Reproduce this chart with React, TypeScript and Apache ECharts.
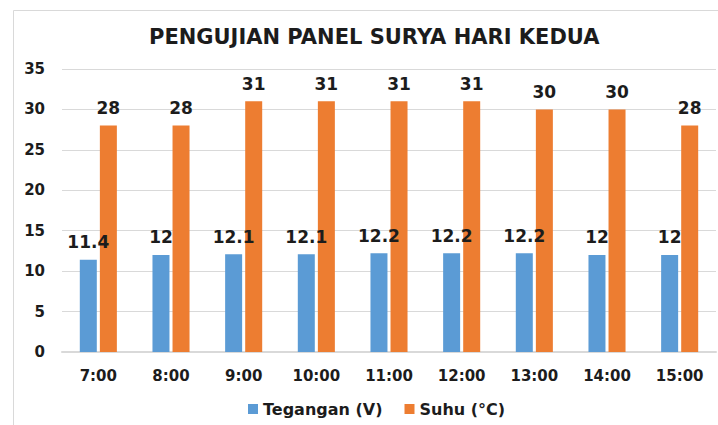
import React, { useEffect, useRef } from "react";
import * as echarts from "echarts";

const categories = ["7:00", "8:00", "9:00", "10:00", "11:00", "12:00", "13:00", "14:00", "15:00"];
const tegangan = [11.4, 12, 12.1, 12.1, 12.2, 12.2, 12.2, 12, 12];
const suhu = [28, 28, 31, 31, 31, 31, 30, 30, 28];
const seriesNames = ["Tegangan (V)", "Suhu (°C)"];
const titleText = "PENGUJIAN PANEL SURYA HARI KEDUA";

const FONT = "DejaVu Sans";
const TXT = "#1c1c1c";

export default function App() {
  const ref = useRef<HTMLDivElement>(null);
  useEffect(() => {
    if (!ref.current) return;
    const chart = echarts.init(ref.current, undefined, { renderer: "svg" });
    const label = {
      show: true,
      position: "top",
      distance: 9,
      color: TXT,
      fontFamily: FONT,
      fontWeight: "bold",
      fontSize: 17,
    };
    chart.setOption({
      animation: false,
      backgroundColor: "#ffffff",
      title: {
        text: titleText,
        left: 144,
        top: 21,
        textStyle: { fontFamily: FONT, fontWeight: "bold", fontSize: 21, color: TXT },
      },
      graphic: [
        {
          type: "rect",
          shape: { x: 13.5, y: 10.5, width: 800, height: 600 },
          style: { fill: "none", stroke: "#d9d9d9", lineWidth: 1 },
          silent: true,
        },
      ],
      legend: {
        bottom: 3,
        left: 243,
        itemWidth: 10,
        itemHeight: 10,
        itemGap: 22,
        icon: "rect",
        textStyle: { fontFamily: FONT, fontWeight: "bold", fontSize: 16, color: TXT },
        data: seriesNames,
      },
      grid: { left: 62, right: 2, top: 69, bottom: 73, containLabel: false },
      xAxis: {
        type: "category",
        data: categories,
        axisLine: { lineStyle: { color: "#d9d9d9", width: 2 } },
        axisTick: { show: false },
        axisLabel: { margin: 16, fontFamily: FONT, fontWeight: "bold", fontSize: 15, color: TXT },
      },
      yAxis: {
        type: "value",
        min: 0,
        max: 35,
        interval: 5,
        axisLine: { show: false },
        axisTick: { show: false },
        splitLine: { lineStyle: { color: "#d9d9d9", width: 1 } },
        axisLabel: { margin: 17, fontFamily: FONT, fontWeight: "bold", fontSize: 15, color: TXT },
      },
      series: [
        {
          name: seriesNames[0],
          type: "bar",
          data: tegangan,
          barWidth: 17,
          barGap: "18%",
          itemStyle: { color: "#5B9BD5" },
          label,
        },
        {
          name: seriesNames[1],
          type: "bar",
          data: suhu,
          barWidth: 17,
          itemStyle: { color: "#ED7D31" },
          label,
        },
      ],
    });
    return () => chart.dispose();
  }, []);
  return <div ref={ref} style={{ position: "fixed", left: 0, top: 0, width: 718, height: 425 }} />;
}
